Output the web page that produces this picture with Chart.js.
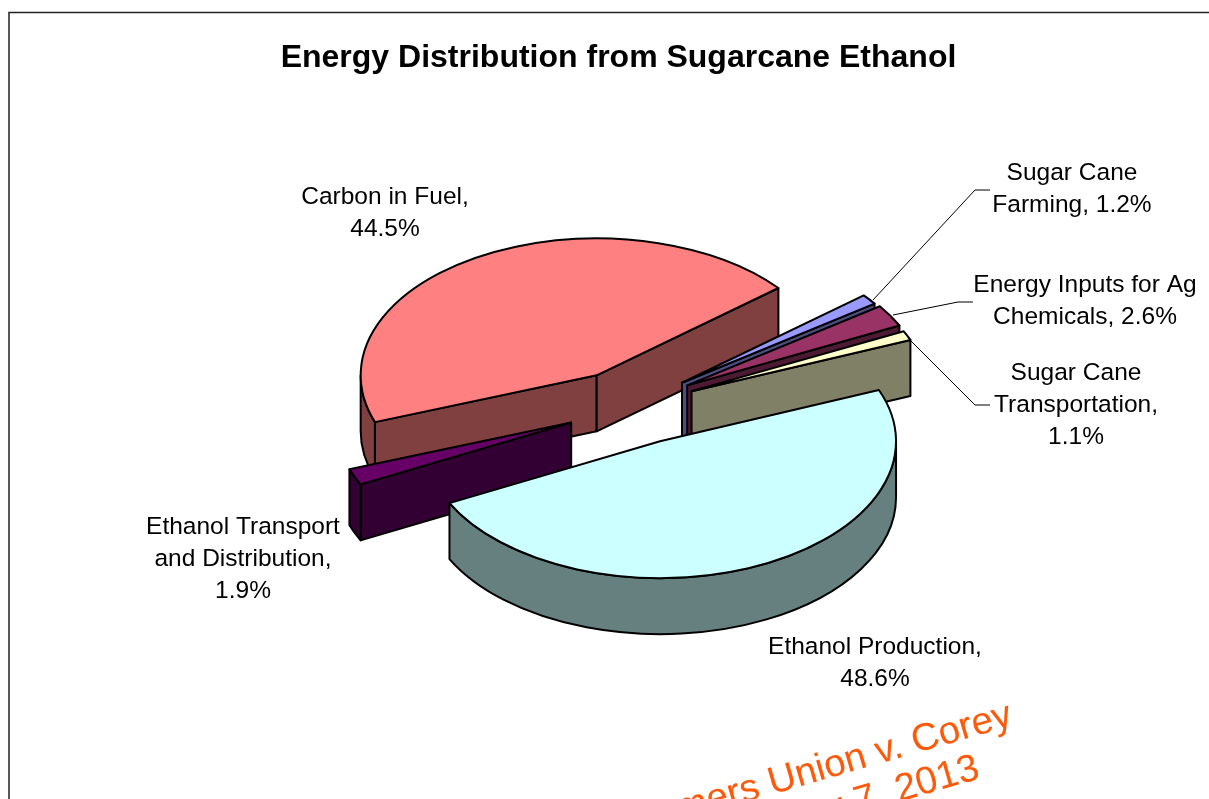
<!DOCTYPE html>
<html>
<head>
<meta charset="utf-8">
<title>Energy Distribution from Sugarcane Ethanol</title>
<script src="https://cdn.jsdelivr.net/npm/chart.js@4"></script>
<style>
    html, body { margin: 0; padding: 0; background: #fff; overflow: hidden; }
    canvas { display: block; }
</style>
</head>
<body>
<canvas id="pieChart" width="1209" height="799"></canvas>
<script>
const chartTitle = 'Energy Distribution from Sugarcane Ethanol';
const categories = ['Carbon in Fuel', 'Sugar Cane Farming', 'Energy Inputs for Ag Chemicals', 'Sugar Cane Transportation', 'Ethanol Production', 'Ethanol Transport and Distribution'];
const shares = [44.5, 1.2, 2.6, 1.1, 48.6, 1.9];
const topColors = ['#FF8080', '#9999FF', '#993366', '#FFFFCC', '#CCFFFF', '#660066'];
const sideColors = ['#804040', '#4D4D80', '#4D1A33', '#808066', '#668080', '#330033'];
const labelLines = [
    ['Carbon in Fuel,', '44.5%'],
    ['Sugar Cane', 'Farming, 1.2%'],
    ['Energy Inputs for Ag', 'Chemicals, 2.6%'],
    ['Sugar Cane', 'Transportation,', '1.1%'],
    ['Ethanol Production,', '48.6%'],
    ['Ethanol Transport', 'and Distribution,', '1.9%']
];
const watermarkLines = ['Farmers Union v. Corey', 'r 7, 2013'];

// back to front, the ethanol wedge has to cover the little one on its left
const paintOrder = [0, 1, 2, 3, 5, 4];

const PIE = { x: 628, y: 407, radius: 236, squash: 0.58, depth: 56, explode: 63 };
const FONT = '"Liberation Sans", Arial, sans-serif';

// small per-slice nudge on top of the explosion, the original is not quite even
const sliceNudge = [[0, 0], [4, -2], [5, -3], [6, -1], [6, 1], [1, 1]];

// where each label block is centred (x) and its first line sits (y)
const labelAnchors = [[385, 197], [1072, 173], [1085, 285], [1076, 373], [875, 647], [243, 527]];
const leaders = [
    [[873, 300], [975, 190], [990, 190]],
    [[893, 315], [958, 302], [973, 302]],
    [[908, 338], [975, 405], [990, 405]]
];

function sliceOrigin(el, index) {
    const mid = (el.startAngle + el.endAngle) / 2;
    return {
        x: PIE.x + Math.cos(mid) * PIE.explode + sliceNudge[index][0],
        y: PIE.y + Math.sin(mid) * PIE.explode * PIE.squash + sliceNudge[index][1]
    };
}

function rimPoint(o, angle, drop) {
    return {
        x: o.x + Math.cos(angle) * PIE.radius,
        y: o.y + Math.sin(angle) * PIE.radius * PIE.squash + drop
    };
}

function paintQuad(ctx, pts, color) {
    ctx.beginPath();
    pts.forEach((p, i) => i ? ctx.lineTo(p.x, p.y) : ctx.moveTo(p.x, p.y));
    ctx.closePath();
    ctx.fillStyle = color;
    ctx.fill();
    ctx.stroke();
}

function paintSlice(ctx, el, index) {
    const o = sliceOrigin(el, index);
    const start = el.startAngle;
    const end = el.endAngle;
    const color = sideColors[index];
    const apexLow = { x: o.x, y: o.y + PIE.depth };

    // radial walls, only the ones that face the viewer
    if (Math.sin(start - Math.PI / 2) > 0) {
        paintQuad(ctx, [o, rimPoint(o, start, 0), rimPoint(o, start, PIE.depth), apexLow], color);
    }
    if (Math.sin(end + Math.PI / 2) > 0) {
        paintQuad(ctx, [o, rimPoint(o, end, 0), rimPoint(o, end, PIE.depth), apexLow], color);
    }

    // outer rim, the lower half of the ellipse is the visible part
    [0, Math.PI * 2].forEach(k => {
        const lo = Math.max(start, k);
        const hi = Math.min(end, k + Math.PI);
        if (hi <= lo) return;
        const ry = PIE.radius * PIE.squash;
        ctx.beginPath();
        ctx.ellipse(o.x, o.y, PIE.radius, ry, 0, lo, hi);
        ctx.ellipse(o.x, o.y + PIE.depth, PIE.radius, ry, 0, hi, lo, true);
        ctx.closePath();
        ctx.fillStyle = color;
        ctx.fill();
        ctx.stroke();
    });

    // top face is the library's own arc, just squashed and moved
    ctx.save();
    ctx.translate(o.x, o.y);
    ctx.scale(1, PIE.squash);
    ctx.translate(-el.x, -el.y);
    el.draw(ctx);
    ctx.restore();

    ctx.beginPath();
    ctx.moveTo(o.x, o.y);
    ctx.ellipse(o.x, o.y, PIE.radius, PIE.radius * PIE.squash, 0, start, end);
    ctx.closePath();
    ctx.stroke();
}

const pie3d = {
    id: 'pie3d',
    beforeDraw(chart) {
        const ctx = chart.ctx;
        ctx.save();
        ctx.strokeStyle = '#222';
        ctx.lineWidth = 1.5;
        ctx.beginPath();
        ctx.moveTo(9, 799);
        ctx.lineTo(9, 12.5);
        ctx.lineTo(1209, 12.5);
        ctx.stroke();
        ctx.restore();
    },
    beforeDatasetDraw(chart) {
        const ctx = chart.ctx;
        const arcs = chart.getDatasetMeta(0).data;
        ctx.save();
        ctx.strokeStyle = '#000';
        ctx.lineWidth = 2;
        ctx.lineJoin = 'round';
        paintOrder.forEach(i => paintSlice(ctx, arcs[i], i));
        ctx.restore();
        return false;
    },
    afterDraw(chart) {
        const ctx = chart.ctx;
        ctx.save();

        ctx.strokeStyle = '#000';
        ctx.lineWidth = 1;
        leaders.forEach(line => {
            ctx.beginPath();
            line.forEach((p, i) => i ? ctx.lineTo(p[0], p[1]) : ctx.moveTo(p[0], p[1]));
            ctx.stroke();
        });

        ctx.fillStyle = '#000';
        ctx.font = '24.5px ' + FONT;
        ctx.textAlign = 'center';
        ctx.textBaseline = 'middle';
        labelLines.forEach((lines, i) => {
            lines.forEach((text, n) => ctx.fillText(text, labelAnchors[i][0], labelAnchors[i][1] + n * 32));
        });

        ctx.fillStyle = '#FF5A0A';
        ctx.font = '38.5px ' + FONT;
        ctx.textAlign = 'right';
        ctx.textBaseline = 'alphabetic';
        ctx.translate(1014, 725);
        ctx.rotate(-16 * Math.PI / 180);
        ctx.fillText(watermarkLines[0], 0, 0);
        ctx.fillText(watermarkLines[1], -46, 42);
        ctx.restore();
    }
};

new Chart(document.getElementById('pieChart'), {
    type: 'pie',
    data: {
        labels: categories,
        datasets: [{
            data: shares,
            backgroundColor: topColors,
            borderWidth: 0,
            offset: 0,
            radius: PIE.radius
        }]
    },
    options: {
        responsive: false,
        animation: false,
        rotation: 250,
        layout: { padding: { left: 28 } },
        plugins: {
            legend: { display: false },
            tooltip: { enabled: false },
            title: {
                display: true,
                text: chartTitle,
                color: '#000',
                font: { family: FONT, size: 32, weight: 'bold', lineHeight: 1.2 },
                padding: { top: 39, bottom: 0 }
            }
        }
    },
    plugins: [pie3d]
});
</script>
</body>
</html>
